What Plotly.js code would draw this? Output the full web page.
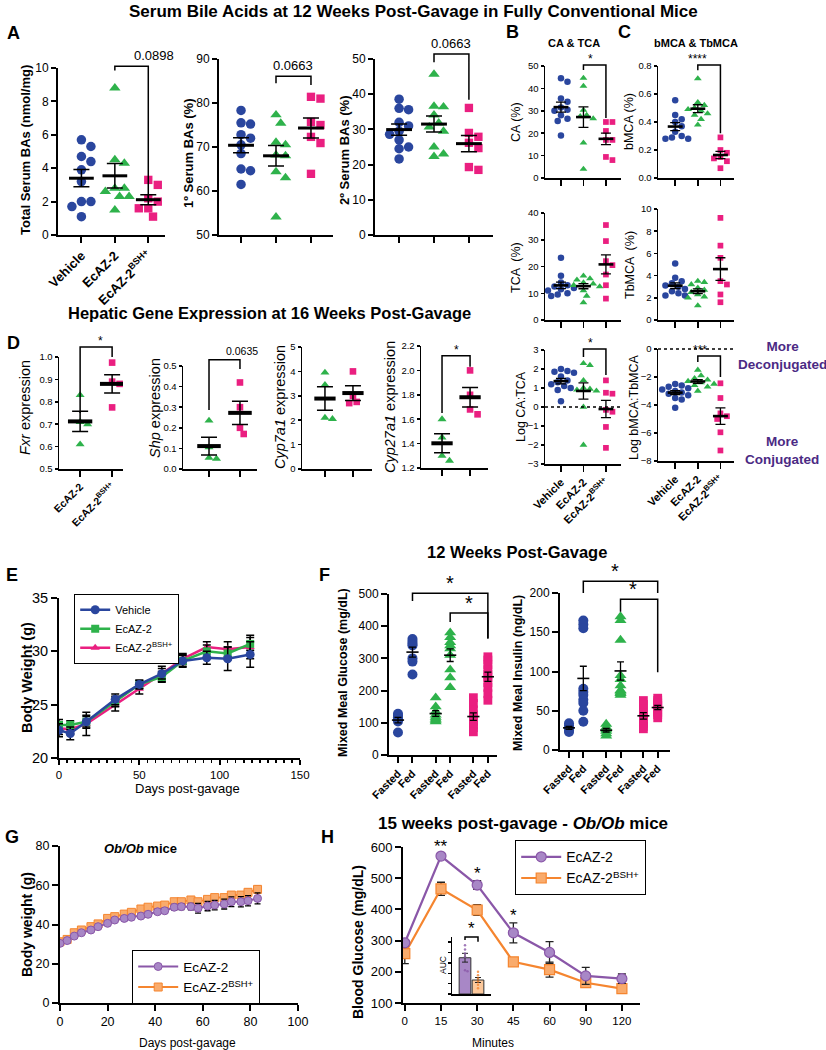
<!DOCTYPE html>
<html>
<head>
<meta charset="utf-8">
<script src="https://cdn.plot.ly/plotly-3.0.1.min.js"></script>
<style>body{margin:0;background:#fff}#chart{width:826px;height:1050px}</style>
</head>
<body>
<div id="chart"></div>
<script>
// ---------- values ----------
const groupNames = ["Vehicle", "EcAZ-2", "EcAZ-2<sup>BSH+</sup>"];
const geneGroups = ["EcAZ-2", "EcAZ-2<sup>BSH+</sup>"];
const mealLabels = ["Fasted", "Fed", "Fasted", "Fed", "Fasted", "Fed"];

// A - serum bile acids (vehicle, EcAZ-2, EcAZ-2 BSH+)
const totalBA = [
  [5.3, 5.7, 4.7, 4.4, 3.9, 3.2, 2.0, 2.0, 1.7, 1.1],
  [8.8, 4.5, 4.3, 2.8, 2.8, 2.6, 2.3, 2.3, 1.5],
  [3.3, 3.0, 2.2, 2.0, 1.6, 1.6, 1.1]
];
const primaryBA = [
  [78.3, 75.5, 75.2, 72.8, 72.0, 70.5, 68.5, 65.0, 64.6, 61.5],
  [77.3, 75.4, 71.1, 70.5, 68.2, 68.0, 64.4, 63.0, 54.1],
  [81.4, 81.0, 75.7, 75.0, 72.3, 70.9, 63.9]
];
const secondaryBA = [
  [38.6, 36.0, 35.6, 32.0, 31.0, 29.5, 28.6, 27.0, 25.0, 24.5, 21.6],
  [45.7, 36.6, 36.4, 34.1, 31.8, 30.7, 29.5, 25.0, 23.0, 22.3],
  [36.1, 29.0, 27.9, 26.2, 24.7, 19.3, 18.5]
];
// B / C - conjugation
const caPct = [
  [44.5, 43.0, 35.5, 34.0, 31.5, 30.5, 30.0, 28.0, 26.5, 25.5, 19.0],
  [44.6, 41.0, 30.3, 28.0, 27.5, 26.5, 15.7, 4.0],
  [25.0, 25.0, 21.0, 17.0, 17.0, 9.4, 8.0]
];
const bmcaPct = [
  [0.555, 0.45, 0.42, 0.40, 0.37, 0.33, 0.30, 0.28, 0.28, 0.29],
  [0.71, 0.54, 0.52, 0.50, 0.49, 0.48, 0.46, 0.45, 0.42, 0.38],
  [0.29, 0.20, 0.18, 0.15, 0.14, 0.12, 0.07]
];
const tcaPct = [
  [23.3, 16.5, 14.0, 13.0, 12.5, 12.0, 11.5, 11.0, 10.0, 9.5, 9.0],
  [16.5, 15.5, 15.0, 14.0, 13.5, 13.0, 12.5, 11.0, 9.0, 6.5],
  [35.5, 29.5, 22.0, 20.5, 17.0, 13.0, 8.0]
];
const tbmcaPct = [
  [5.1, 3.8, 3.5, 3.3, 3.1, 3.0, 2.8, 2.6, 2.4, 2.2, 2.2],
  [3.5, 3.4, 3.2, 2.9, 2.7, 2.5, 2.3, 2.1, 2.0, 1.3],
  [9.2, 6.7, 5.6, 3.5, 3.2, 2.3, 1.6]
];
const logCaTca = [
  [2.0, 1.9, 1.85, 1.8, 1.6, 1.4, 1.3, 1.2, 1.1, 1.0, 0.9, 0.3],
  [2.3, 2.2, 1.4, 1.0, 0.95, 0.9, 0.85, 0.0, -2.0],
  [1.4, 0.75, 0.7, -0.15, -0.25, -1.05, -2.15]
];
const logBmcaTbmca = [
  [-2.5, -2.6, -2.7, -2.8, -2.9, -3.0, -3.1, -3.2, -3.3, -3.5, -3.6, -4.2],
  [-1.5, -1.9, -2.1, -2.2, -2.3, -2.4, -2.5, -2.6, -2.7, -3.0],
  [-2.45, -3.5, -4.6, -4.8, -5.0, -5.95, -7.25]
];
// D - hepatic genes (EcAZ-2, EcAZ-2 BSH+)
const fxr = [[0.83, 0.71, 0.70, 0.61], [0.975, 0.89, 0.88, 0.775]];
const shp = [[0.235, 0.105, 0.05, 0.055], [0.42, 0.30, 0.20, 0.17]];
const cyp7a1 = [[3.95, 3.45, 2.05, 2.1], [4.0, 3.0, 2.7, 2.75]];
const cyp27a1 = [[1.6, 1.45, 1.3, 1.26], [2.0, 1.8, 1.68, 1.64]];

// E - body weight, conventional mice
const weighDays = [0, 7, 17, 35, 50, 64, 77, 92, 105, 119];
const bwVehicle = [22.6, 22.3, 23.4, 25.5, 26.9, 27.9, 29.1, 29.4, 29.3, 29.7];
const bwEcaz = [23.1, 23.1, 23.4, 25.3, 26.9, 27.6, 29.1, 30.0, 29.8, 30.7];
const bwBsh = [22.8, 22.7, 23.2, 25.0, 26.5, 27.9, 29.3, 30.4, 30.2, 30.4];
const bwVehicleSem = [0.6, 0.6, 0.6, 0.5, 0.4, 0.5, 0.6, 0.6, 1.1, 1.2];
const bwEcazSem = [0.5, 0.4, 0.5, 0.5, 0.4, 0.5, 0.5, 0.6, 0.6, 0.6];
const bwBshSem = [0.6, 0.5, 1.1, 0.6, 0.5, 0.7, 0.5, 0.5, 0.7, 1.1];

// F - mixed meal (vehicle fasted/fed, EcAZ-2 fasted/fed, BSH+ fasted/fed)
const mealGlucose = [
  [128, 122, 117, 110, 104, 70],
  [360, 352, 345, 340, 300, 290, 250],
  [178, 150, 135, 125, 118, 112, 108, 104],
  [380, 365, 350, 340, 330, 310, 265, 240, 210],
  [178, 160, 140, 125, 115, 105, 95, 85, 72],
  [305, 295, 280, 265, 250, 240, 225, 210, 190, 170]
];
const mealInsulin = [
  [34, 31, 28, 25, 23],
  [165, 160, 155, 78, 74, 70, 64, 60, 50, 36],
  [33, 29, 26, 24, 21, 18],
  [170, 165, 140, 95, 90, 82, 76, 75, 73, 72, 70],
  [63, 58, 52, 47, 43, 38, 34, 30, 27],
  [66, 63, 60, 57, 55, 52, 48, 45, 41]
];

// G - Ob/Ob body weight
const obDays = [0, 3, 6, 9, 13, 16, 20, 23, 27, 30, 34, 37, 41, 44, 48, 51, 55, 58, 62, 65, 69, 72, 76, 79, 83];
const obEcaz = [30.4, 31.8, 34.1, 35.8, 37.2, 38.9, 40.6, 42.3, 43.1, 43.7, 44.3, 45.2, 46.5, 47.0, 48.8, 49.1, 49.1, 48.3, 49.4, 49.9, 50.4, 51.6, 51.6, 52.1, 53.3];
const obBsh = [31.2, 32.4, 35.8, 37.2, 38.9, 40.3, 43.1, 44.0, 45.3, 46.2, 47.9, 48.8, 49.4, 49.9, 51.6, 51.6, 52.5, 51.6, 52.8, 53.7, 53.7, 55.0, 55.0, 56.4, 57.9];
const obEcazSem = [0.8, 0.8, 0.8, 0.9, 0.9, 1.0, 1.0, 1.0, 1.1, 1.1, 1.2, 1.2, 1.3, 1.3, 1.4, 1.5, 1.6, 2.5, 2.4, 2.4, 2.5, 2.5, 2.6, 2.6, 2.8];
const obBshSem = [0.8, 0.8, 0.8, 0.8, 0.9, 0.9, 0.9, 1.0, 1.0, 1.0, 1.1, 1.1, 1.1, 1.2, 1.2, 1.2, 1.3, 1.3, 1.3, 1.4, 1.4, 1.4, 1.5, 1.5, 1.6];

// H - glucose tolerance, Ob/Ob
const gttMinutes = ["0", "15", "30", "45", "60", "90", "120"];
const gttEcaz = [293, 571, 478, 325, 262, 187, 178];
const gttBsh = [258, 466, 398, 232, 207, 165, 146];
const gttEcazSem = [10, 8, 14, 32, 35, 27, 15];
const gttBshSem = [32, 21, 17, 8, 24, 8, 6];
const gttStars = ["", "**", "*", "*", "", "", ""];
const aucEcaz = [47000, 43000, 39000, 36000, 23000, 22000];
const aucBsh = [21500, 18000, 15000, 12000, 9000, 5500];

// ---------- styling ----------
const FONT = "Liberation Sans, Arial, sans-serif";
const W = 826, H = 1050;
const BLUE = "#2a469e", GREEN = "#2eb24b", PINK = "#ea1f80";
const PURPLE = "#8a57a8", PURPLE_L = "#a887c6", ORANGE = "#f5852f", ORANGE_L = "#f9ab6c";
const groupStyle = [
  { color: BLUE, symbol: "circle", scale: 1 },
  { color: GREEN, symbol: "triangle-up", scale: 1.05 },
  { color: PINK, symbol: "square", scale: 0.88 }
];

// subplot boxes in pixels (left/right, top/bottom) with their ranges
const P = {
  a1: { x: [58, 165], y: [68, 235], xr: [-0.7, 2.5], yr: [0, 10], dt: 2 },
  a2: { x: [219, 333], y: [59, 235], xr: [-0.63, 2.63], yr: [50, 90], dt: 10 },
  a3: { x: [375, 493], y: [59, 235], xr: [-0.69, 2.69], yr: [0, 50], dt: 10 },
  b1: { x: [545, 621], y: [66, 178], xr: [-0.71, 2.67], yr: [0, 50], dt: 10 },
  c1: { x: [658, 734], y: [66, 178], xr: [-0.76, 2.6], yr: [0, 0.8], dt: 0.2, fmt: ".1f" },
  b2: { x: [545, 621], y: [213, 320], xr: [-0.71, 2.67], yr: [0, 40], dt: 10 },
  c2: { x: [658, 734], y: [209, 320], xr: [-0.76, 2.6], yr: [0, 10], dt: 2 },
  b3: { x: [545, 621], y: [350, 464], xr: [-0.71, 2.67], yr: [-3, 3], dt: 1 },
  c3: { x: [658, 734], y: [349, 461], xr: [-0.76, 2.6], yr: [-8, 0], dt: 2 },
  d1: { x: [59, 123], y: [357, 469], xr: [-0.66, 1.34], yr: [0.5, 1.0], dt: 0.1, fmt: ".1f" },
  d2: { x: [183, 257], y: [366, 469], xr: [-0.84, 1.55], yr: [0, 0.5], dt: 0.1, fmt: ".1f" },
  d3: { x: [302, 372], y: [347, 469], xr: [-0.82, 1.68], yr: [0, 5], dt: 1 },
  d4: { x: [421, 488], y: [346, 468], xr: [-0.75, 1.64], yr: [1.2, 2.2], dt: 0.2, fmt: ".1f" },
  e: { x: [59, 300], y: [598, 758], xr: [0, 150], yr: [20, 35], dt: 5 },
  f1: { x: [389, 497], y: [594, 755], xr: [-0.62, 6.83], yr: [0, 500], dt: 100 },
  f2: { x: [560, 670], y: [593, 750], xr: [-0.63, 7.06], yr: [0, 200], dt: 50 },
  g: { x: [60, 298], y: [846, 1003], xr: [0, 100], yr: [0, 80], dt: 20 },
  h: { x: [403, 640], y: [847, 1003], xr: [-0.05, 6.5], yr: [100, 600], dt: 100 },
  hi: { x: [452, 491], y: [937, 994], xr: [-1, 2], yr: [0, 55000], dt: 10000 }
};
Object.keys(P).forEach((k, i) => {
  const p = P[k];
  p.id = i === 0 ? "" : String(i + 1);
  p.kx = (p.x[1] - p.x[0]) / (p.xr[1] - p.xr[0]);
  p.ky = (p.y[1] - p.y[0]) / (p.yr[1] - p.yr[0]);
  p.X = v => (p.x[0] + (v - p.xr[0]) * p.kx) / W;
  p.Y = v => 1 - (p.y[1] - (v - p.yr[0]) * p.ky) / H;
});

const traces = [];
const layout = {
  width: W, height: H, margin: { l: 0, r: 0, t: 0, b: 0 },
  paper_bgcolor: "#fff", plot_bgcolor: "rgba(0,0,0,0)",
  font: { family: FONT, color: "#000", size: 11 },
  showlegend: true, annotations: [], shapes: []
};

const mean = a => a.reduce((s, v) => s + v, 0) / a.length;
const sem = a => {
  const m = mean(a);
  return Math.sqrt(a.reduce((s, v) => s + (v - m) * (v - m), 0) / (a.length - 1) / a.length);
};

function axes(k, xo, yo, lw) {
  const p = P[k];
  lw = lw || 1.5;
  const common = {
    showgrid: false, zeroline: false, showline: true, linecolor: "#000", linewidth: lw,
    ticks: "outside", tickcolor: "#000", tickwidth: lw, ticklen: 5, fixedrange: true
  };
  layout["xaxis" + p.id] = Object.assign({}, common, {
    domain: [p.x[0] / W, p.x[1] / W], range: p.xr, anchor: "y" + p.id
  }, xo);
  layout["yaxis" + p.id] = Object.assign({}, common, {
    domain: [1 - p.y[1] / H, 1 - p.y[0] / H], range: p.yr, anchor: "x" + p.id,
    dtick: p.dt, tick0: 0, tickformat: p.fmt || ""
  }, yo);
}

// simple beeswarm so markers in a column do not overlap
function swarm(vals, kx, ky, d) {
  const off = vals.map(() => 0), placed = [];
  const order = vals.map((v, i) => i).sort((a, b) => vals[b] - vals[a]);
  order.forEach(i => {
    const py = vals[i] * ky;
    for (let s = 0; s < 40; s++) {
      const c = (s % 2 ? 1 : -1) * Math.ceil(s / 2) * d * 0.5;
      if (placed.every(q => Math.hypot(q[0] - c, q[1] - py) >= d * 0.92)) {
        off[i] = c / kx; placed.push([c, py]); break;
      }
    }
  });
  return off;
}

function dotPanel(k, data, o) {
  const p = P[k];
  data.forEach((vals, g) => {
    const st = groupStyle[o.styles[g]];
    const xc = o.xpos ? o.xpos[g] : g;
    const off = o.stack ? vals.map(() => 0) : swarm(vals, p.kx, p.ky, o.size);
    traces.push({
      type: "scatter", mode: "markers", xaxis: "x" + p.id, yaxis: "y" + p.id,
      x: vals.map((v, j) => xc + off[j]), y: vals, showlegend: false, hoverinfo: "y",
      marker: { symbol: st.symbol, color: st.color, size: o.size * st.scale, line: { width: 0 } }
    });
    const m = mean(vals);
    traces.push({
      type: "scatter", mode: "lines", xaxis: "x" + p.id, yaxis: "y" + p.id,
      x: [xc - o.half, xc + o.half], y: [m, m], showlegend: false, hoverinfo: "skip",
      line: { color: "#000", width: o.mw }
    });
    traces.push({
      type: "scatter", mode: "markers", xaxis: "x" + p.id, yaxis: "y" + p.id,
      x: [xc], y: [m], showlegend: false, hoverinfo: "skip",
      marker: { size: 1, color: "rgba(0,0,0,0)" },
      error_y: { type: "data", array: [sem(vals)], color: "#000", thickness: o.et || 1.5, width: o.ew }
    });
  });
}

function txt(x, y, text, size, extra) {
  layout.annotations.push(Object.assign({
    xref: "paper", yref: "paper", x: x / W, y: 1 - y / H, text: text, showarrow: false,
    xanchor: "center", yanchor: "middle", font: { size: size, family: FONT, color: "#000" }
  }, extra || {}));
}
function ytitle(x, y, text, size) { txt(x, y, text, size, { textangle: -90 }); }

function bracket(k, xa, xb, top, la, lb, label, fs) {
  const p = P[k];
  layout.shapes.push({
    type: "path", xref: "paper", yref: "paper", line: { color: "#000", width: 1.5 },
    path: `M${p.X(xa)},${p.Y(la)} L${p.X(xa)},${p.Y(top)} L${p.X(xb)},${p.Y(top)} L${p.X(xb)},${p.Y(lb)}`
  });
  layout.annotations.push({
    xref: "paper", yref: "paper", x: (p.X(xa) + p.X(xb)) / 2, y: p.Y(top), yanchor: "bottom",
    yshift: label.indexOf("*") === 0 ? -3 : 1,
    text: label, showarrow: false, font: { size: fs, family: FONT, color: "#000" }
  });
}

function zeroDots(k) {
  const p = P[k];
  layout.shapes.push({
    type: "line", xref: "paper", yref: "paper", x0: p.X(p.xr[0]), x1: p.X(p.xr[1]), y0: p.Y(0), y1: p.Y(0),
    line: { color: "#000", width: 1.3, dash: "dot" }
  });
}

// ---------- A ----------
const catTicks = (labels, show, size) => ({
  tickvals: labels.map((l, i) => i), ticktext: labels, showticklabels: show, tickangle: -45,
  tickfont: { size: size, weight: "bold" }, ticklen: 6
});
const three = { styles: [0, 1, 2] };
axes("a1", catTicks(groupNames, true, 13), { tickfont: { size: 12 } }, 2);
axes("a2", catTicks(groupNames, false, 13), { tickfont: { size: 12 } }, 2);
axes("a3", catTicks(groupNames, false, 13), { tickfont: { size: 12 } }, 2);
const optA = Object.assign({ size: 9.5, half: 0.37, mw: 3, ew: 8 }, three);
dotPanel("a1", totalBA, optA);
dotPanel("a2", primaryBA, optA);
dotPanel("a3", secondaryBA, optA);
bracket("a1", 1, 2, 10.1, 9.85, 2.2, "0.0898", 13);
bracket("a2", 1, 2, 86.1, 84.5, 84.1, "0.0663", 13);
bracket("a3", 1, 2, 51.4, 49.1, 38.4, "0.0663", 13);

// ---------- B / C ----------
const optB = Object.assign({ size: 6.5, half: 0.33, mw: 2.6, ew: 5, et: 1.3 }, three);
[["b1", caPct, false], ["c1", bmcaPct, false], ["b2", tcaPct, false], ["c2", tbmcaPct, false],
 ["b3", logCaTca, true], ["c3", logBmcaTbmca, true]].forEach(r => {
  axes(r[0], catTicks(groupNames, r[2], 11), { tickfont: { size: 9.5 }, ticklen: 3 });
  dotPanel(r[0], r[1], optB);
});
zeroDots("b3");
zeroDots("c3");
bracket("b1", 1, 2, 50.4, 48.2, 26.8, "*", 12);
bracket("c1", 1, 2, 0.807, 0.77, 0.32, "****", 12);
bracket("b3", 1, 2, 3.05, 2.63, 1.68, "*", 12);
bracket("c3", 1, 2, -0.5, -0.93, -2.0, "***", 12);

// ---------- D ----------
const optD = { styles: [1, 2], size: 7.5, half: 0.38, mw: 4, ew: 8 };
[["d1", fxr, true], ["d2", shp, false], ["d3", cyp7a1, false], ["d4", cyp27a1, false]].forEach(r => {
  axes(r[0], catTicks(geneGroups, r[2], 10.5), { tickfont: { size: 9.5 }, ticklen: 3 });
  dotPanel(r[0], r[1], optD);
});
bracket("d1", 0, 1, 1.045, 0.75, 1.0, "*", 12);
bracket("d2", 0, 1, 0.53, 0.286, 0.485, "0.0635", 10.5);
bracket("d4", 0, 1, 2.12, 1.65, 2.03, "*", 12);

// ---------- E ----------
axes("e", {
  dtick: 50, tick0: 0, tickfont: { size: 11.5 }, ticklen: 5,
  minor: { ticks: "outside", dtick: 5, ticklen: 3, tickwidth: 1.5, tickcolor: "#000" }
}, { tickfont: { size: 14.5 }, ticklen: 6 }, 2);
[[bwBsh, bwBshSem, PINK, "triangle-up", groupNames[2], 3],
 [bwEcaz, bwEcazSem, GREEN, "square", groupNames[1], 2],
 [bwVehicle, bwVehicleSem, BLUE, "circle", groupNames[0], 1]].forEach(s => {
  traces.push({
    type: "scatter", mode: "lines+markers", x: weighDays, y: s[0], name: s[4], legendrank: s[5],
    xaxis: "x" + P.e.id, yaxis: "y" + P.e.id, legend: "legend",
    line: { color: s[2], width: 2.5 }, marker: { color: s[2], symbol: s[3], size: s[3] === "circle" ? 9 : 8 },
    error_y: { type: "data", array: s[1], color: "#000", thickness: 1.5, width: 4 }
  });
});
layout.legend = {
  x: 74 / W, y: 1 - 594 / H, xanchor: "left", yanchor: "top", bgcolor: "#fff",
  bordercolor: "#000", borderwidth: 1.2, font: { size: 11, family: FONT }, itemwidth: 30, tracegroupgap: 0
};

// ---------- F ----------
const mealPos = [0, 1, 2.6, 3.6, 5.2, 6.2];
const optF = { styles: [0, 0, 1, 1, 2, 2], xpos: mealPos, stack: true, size: 10, half: 0.42, mw: 1.6, ew: 3.5, et: 1.3 };
const mealTicks = { tickvals: mealPos, ticktext: mealLabels, tickangle: -45, tickfont: { size: 11, weight: "bold" }, ticklen: 6 };
axes("f1", mealTicks, { tickfont: { size: 12 }, ticklen: 6 }, 2);
axes("f2", mealTicks, { tickfont: { size: 12 }, ticklen: 6 }, 2);
dotPanel("f1", mealGlucose, optF);
dotPanel("f2", mealInsulin, optF);
bracket("f1", 1, 6.2, 502, 478, 362, "*", 20);
bracket("f1", 3.6, 6.2, 441, 413, 362, "*", 20);
bracket("f2", 1, 6.2, 215, 200, 200, "*", 20);
bracket("f2", 3.6, 6.2, 192, 176, 99, "*", 20);

// ---------- G ----------
axes("g", { dtick: 20, tick0: 0, tickfont: { size: 12.5 }, ticklen: 6 }, { tickfont: { size: 12.5 }, ticklen: 6 }, 2);
[[obBsh, obBshSem, ORANGE, ORANGE_L, "square", geneGroups[1], 2],
 [obEcaz, obEcazSem, PURPLE, PURPLE_L, "circle", geneGroups[0], 1]].forEach(s => {
  traces.push({
    type: "scatter", mode: "lines+markers", x: obDays, y: s[0], name: s[5], legendrank: s[6],
    xaxis: "x" + P.g.id, yaxis: "y" + P.g.id, legend: "legend2",
    line: { color: s[2], width: 2 }, marker: { color: s[3], symbol: s[4], size: 8, line: { color: s[2], width: 1 } },
    error_y: { type: "data", array: s[1], color: "#000", thickness: 1.3, width: 3 }
  });
});
layout.legend2 = {
  x: 132 / W, y: 1 - 950 / H, xanchor: "left", yanchor: "top", bgcolor: "#fff",
  bordercolor: "#000", borderwidth: 1.2, font: { size: 13.5, family: FONT }, itemwidth: 40, tracegroupgap: 0
};

// ---------- H ----------
axes("h", {
  type: "category", categoryorder: "array", categoryarray: gttMinutes, tickfont: { size: 11.5 }, ticklen: 6
}, { tickfont: { size: 13 }, ticklen: 6 }, 2);
[[gttBsh, gttBshSem, ORANGE, ORANGE_L, "square", geneGroups[1], 2],
 [gttEcaz, gttEcazSem, PURPLE, PURPLE_L, "circle", geneGroups[0], 1]].forEach(s => {
  traces.push({
    type: "scatter", mode: "lines+markers", x: gttMinutes, y: s[0], name: s[5], legendrank: s[6],
    xaxis: "x" + P.h.id, yaxis: "y" + P.h.id, legend: "legend3",
    line: { color: s[2], width: 2.2 }, marker: { color: s[3], symbol: s[4], size: 10, line: { color: s[2], width: 1.2 } },
    error_y: { type: "data", array: s[1], color: "#222", thickness: 1.3, width: 4 }
  });
});
gttStars.forEach((s, i) => {
  if (!s) return;
  layout.annotations.push({
    xref: "paper", yref: "paper", x: P.h.X(i), y: P.h.Y(gttEcaz[i] + gttEcazSem[i]),
    yanchor: "bottom", yshift: -4, text: s, showarrow: false, font: { size: 17, family: FONT, color: "#000" }
  });
});
layout.legend3 = {
  x: 515 / W, y: 1 - 840 / H, xanchor: "left", yanchor: "top", bgcolor: "#fff",
  bordercolor: "#000", borderwidth: 1.2, font: { size: 14, family: FONT }, itemwidth: 40, tracegroupgap: 0
};

// inset AUC bars
axes("hi", { tickvals: [0, 1], showticklabels: false, ticklen: 0 },
  { showticklabels: false, ticklen: 2.5 }, 1.5);
const aucSets = [[aucEcaz, PURPLE_L, PURPLE], [aucBsh, "#fcc89b", ORANGE]];
traces.push({
  type: "bar", x: [0, 1], y: aucSets.map(a => mean(a[0])), width: 0.9,
  xaxis: "x" + P.hi.id, yaxis: "y" + P.hi.id, showlegend: false, hoverinfo: "skip",
  marker: { color: aucSets.map(a => a[1]), line: { color: "#333", width: 1 } },
  error_y: { type: "data", array: aucSets.map(a => sem(a[0])), color: "#222", thickness: 1, width: 3 }
});
aucSets.forEach((a, g) => {
  const off = swarm(a[0], P.hi.kx, P.hi.ky, 2.5);
  traces.push({
    type: "scatter", mode: "markers", x: a[0].map((v, j) => g + off[j]), y: a[0],
    xaxis: "x" + P.hi.id, yaxis: "y" + P.hi.id, showlegend: false, hoverinfo: "skip",
    marker: { size: 2.5, color: a[2], opacity: 0.8 }
  });
});
bracket("hi", 0, 1, 55000, 52000, 50500, "*", 17);

// ---------- text ----------
txt(413, 11, "<b>Serum Bile Acids at 12 Weeks Post-Gavage in Fully Conventional Mice</b>", 17);
txt(269, 313, "<b>Hepatic Gene Expression at 16 Weeks Post-Gavage</b>", 16.5);
txt(517, 552, "<b>12 Weeks Post-Gavage</b>", 16.5);
txt(523, 823, "<b>15 weeks post-gavage - <i>Ob/Ob</i> mice</b>", 17);
[["A", 13, 33], ["B", 512, 32], ["C", 624, 32], ["D", 13, 343], ["E", 12, 575],
 ["F", 324, 575], ["G", 12, 837], ["H", 327, 837]].forEach(l => txt(l[1], l[2], "<b>" + l[0] + "</b>", 18));
txt(574, 43, "<b>CA &amp; TCA</b>", 11);
txt(696, 43, "<b>bMCA &amp; TbMCA</b>", 11);
txt(782, 355, "<b>More<br>Deconjugated</b>", 13.5, { font: { size: 13.5, family: FONT, color: "#4b2a84" } });
txt(782, 450, "<b>More<br>Conjugated</b>", 13.5, { font: { size: 13.5, family: FONT, color: "#4b2a84" } });
txt(140, 848, "<b><i>Ob/Ob</i> mice</b>", 13);

ytitle(26, 150, "<b>Total Serum BAs (nmol/mg)</b>", 13);
ytitle(189, 153, "<b>1º Serum BAs (%)</b>", 13);
ytitle(345, 150, "<b>2º Serum BAs (%)</b>", 13);
ytitle(516, 122, "CA (%)", 12.5);
ytitle(629, 122, "bMCA (%)", 12.5);
ytitle(516, 268, "TCA  (%)", 12.5);
ytitle(630, 265, "TbMCA  (%)", 12.5);
ytitle(521, 407, "Log CA:TCA", 12.5);
ytitle(634, 407, "Log bMCA:TbMCA", 12.5);
ytitle(25, 408, "<i>Fxr</i> expression", 14.5);
ytitle(155, 408, "<i>Shp</i> expression", 14.5);
ytitle(280, 407, "<i>Cyp7a1</i> expression", 14.5);
ytitle(390, 407, "<i>Cyp27a1</i> expression", 14.5);
ytitle(27, 678, "<b>Body Weight (g)</b>", 14.5);
ytitle(343, 673, "<b>Mixed Meal Glucose (mg/dL)</b>", 12.5);
ytitle(518, 673, "<b>Mixed Meal Insulin (ng/dL)</b>", 12.5);
ytitle(27, 925, "<b>Body weight (g)</b>", 14);
ytitle(358, 942, "<b>Blood Glucose (mg/dL)</b>", 14);
ytitle(443, 965, "AUC", 8.5);
txt(187, 788, "Days post-gavage", 13);
txt(187, 1043, "Days post-gavage", 12);
txt(493, 1043, "Minutes", 12);

Plotly.newPlot("chart", traces, layout, { displayModeBar: false, staticPlot: true });
</script>
</body>
</html>
